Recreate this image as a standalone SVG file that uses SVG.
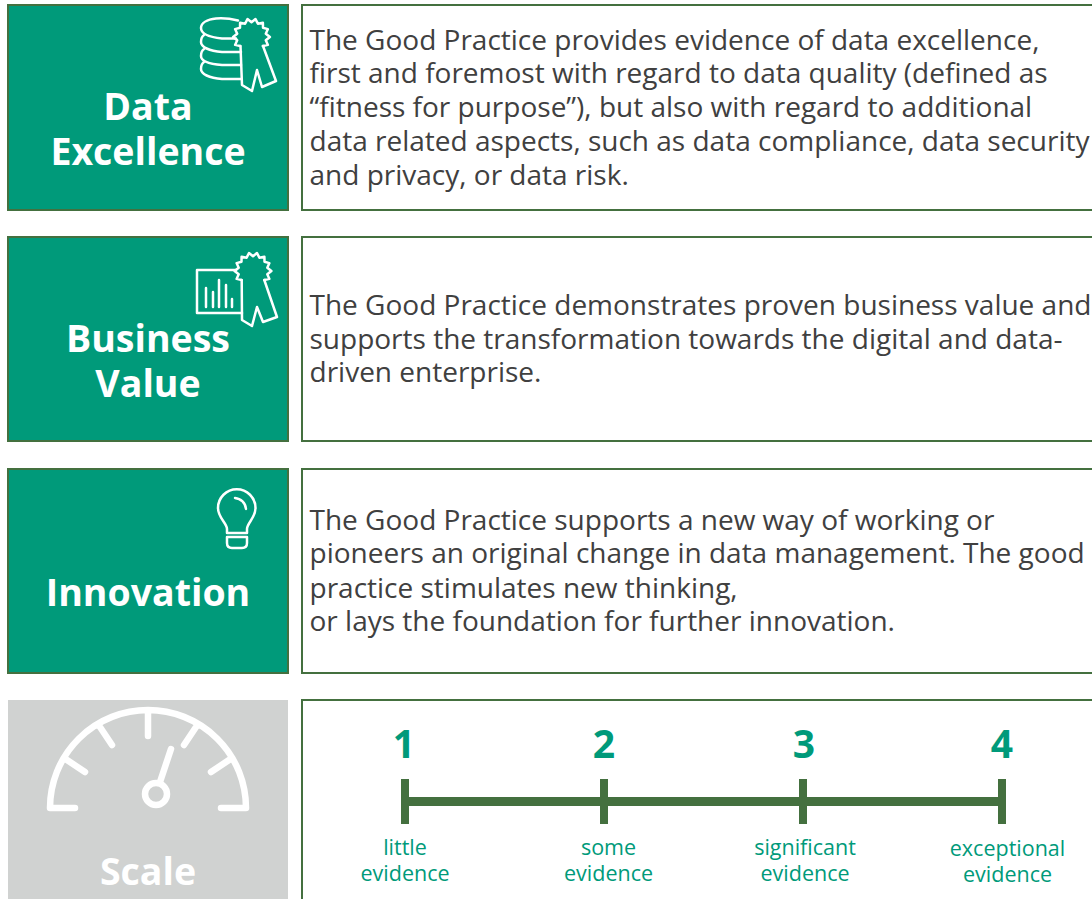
<svg xmlns="http://www.w3.org/2000/svg" width="1092" height="899" viewBox="0 0 1092 899">
<style>
text{font-family:"Open Sans","Noto Sans",sans-serif}
.tile{fill:#009a7a;stroke:#44703f;stroke-width:2}
.desc{fill:#fff;stroke:#44703f;stroke-width:2}
.title{font-size:37.5px;font-weight:700;fill:#fff;text-anchor:middle}
.body{font-size:28px;fill:#404040}
.num{font-size:39px;font-weight:700;fill:#009a7a;text-anchor:middle}
.lab{font-size:21.5px;fill:#009a7a;text-anchor:middle}
.ico{fill:none;stroke:#fff;stroke-width:2.5;stroke-linejoin:round;stroke-linecap:round}
.g{fill:none;stroke:#fff;stroke-width:6.5;stroke-linecap:round;stroke-linejoin:round}
.bar{fill:#44703f}
</style>
<defs>
<path id="star" d="M-11.34,9.04L-16.4,7.9L-14.3,3.3L-18.4,0L-14.3,-3.3L-16.4,-7.9L-11.5,-9.2L-11.4,-14.3L-6.4,-13.3L-4,-17.9L0,-14.8L4,-17.9L6.4,-13.3L11.4,-14.3L11.5,-9.2L16.4,-7.9L14.3,-3.3L18.4,0L14.3,3.3L16.4,7.9L11.34,9.04"/>
</defs>
<rect width="1092" height="899" fill="#fff"/>
<g id="data-excellence">
<rect class="tile" x="8" y="5" width="280" height="205"/>
<path class="ico" d="M238,20.500C230,18.500 222,18 216,18.500C207,19.500 201,23 201,28C201,33 208,37 222,38.500L236,38.500M204,35C201,37 201,39 201,42C201,47 209,51 222,52L241,52M204,49C201,51 201,53 201,56C201,61 209,64 222,65L241,65M204,62C201,64 201,66 201,69C201,74 209,78 222,79L241,79"/>
<use href="#star" class="ico" x="251.500" y="37"/>
<path class="ico" d="M240.500,46L242,85L252,91L257,70L262,87L276,81L263,46"/>
<text class="title" x="148" y="120">Data</text>
<text class="title" x="148" y="165">Excellence</text>
<rect class="desc" x="302" y="5" width="800" height="205"/>
<text class="body"><tspan x="309.500" y="50">The Good Practice provides evidence of data excellence,</tspan><tspan x="309.500" y="83.400">first and foremost with regard to data quality (defined as</tspan><tspan x="309.500" y="117.400">“fitness for purpose”), but also with regard to additional</tspan><tspan x="309.500" y="151.100">data related aspects, such as data compliance, data security</tspan><tspan x="309.500" y="184.800">and privacy, or data risk.</tspan></text>
</g>
<g id="business-value">
<rect class="tile" x="8" y="237" width="280" height="204"/>
<path class="ico" d="M236,270H197V313H242M206,288V307M213,292V307M219,280V307M226,285V307M232,299V307"/>
<use href="#star" class="ico" x="253" y="271"/>
<path class="ico" d="M241.700,280L242,320L252,326L257,307L263,322L277,317L264.300,280"/>
<text class="title" x="148" y="352">Business</text>
<text class="title" x="148" y="397">Value</text>
<rect class="desc" x="302" y="237" width="800" height="204"/>
<text class="body"><tspan x="309.500" y="315">The Good Practice demonstrates proven business value and</tspan><tspan x="309.500" y="348.700">supports the transformation towards the digital and data-</tspan><tspan x="309.500" y="382.400">driven enterprise.</tspan></text>
</g>
<g id="innovation">
<rect class="tile" x="8" y="469" width="280" height="204"/>
<path class="ico" d="M227,533V529C227,523 218,518 218,508A18.700,18.700 0 0 1 255.500,508C255.500,518 247,523 247,529V533ZM227,537H247V543Q247,548 242,548H232Q227,548 227,543ZM235,498A12,12 0 0 1 246,509"/>
<text class="title" x="148" y="606">Innovation</text>
<rect class="desc" x="302" y="469" width="800" height="204"/>
<text class="body"><tspan x="309.500" y="530">The Good Practice supports a new way of working or</tspan><tspan x="309.500" y="563.400">pioneers an original change in data management. The good</tspan><tspan x="309.500" y="597.600">practice stimulates new thinking,</tspan><tspan x="309.500" y="631.100">or lays the foundation for further innovation.</tspan></text>
</g>
<g id="scale">
<rect x="8" y="700" width="280" height="199" fill="#d0d2d1"/>
<path class="g" d="M75,808H50A98,98 0 0 1 246,808H221M148,711V736M100,727L112,745M196,727L184,745M67,760L85,772M229,760L211,772M171,749L160,782"/>
<circle class="g" cx="156" cy="794" r="11"/>
<text class="title" x="148" y="885">Scale</text>
<rect class="desc" x="302" y="700" width="800" height="220"/>
<rect class="bar" x="405" y="797" width="597" height="9"/>
<rect class="bar" x="401" y="779" width="8" height="45"/>
<rect class="bar" x="600" y="779" width="8" height="45"/>
<rect class="bar" x="799" y="779" width="8" height="45"/>
<rect class="bar" x="998" y="779" width="8" height="45"/>
<text class="num" x="404" y="758">1</text>
<text class="num" x="604" y="758">2</text>
<text class="num" x="804" y="758">3</text>
<text class="num" x="1002" y="758">4</text>
<text class="lab"><tspan x="405" y="855">little</tspan><tspan x="405" y="881">evidence</tspan></text>
<text class="lab"><tspan x="608.500" y="855">some</tspan><tspan x="608.500" y="881">evidence</tspan></text>
<text class="lab"><tspan x="805" y="855">significant</tspan><tspan x="805" y="881">evidence</tspan></text>
<text class="lab"><tspan x="1007.500" y="856">exceptional</tspan><tspan x="1007.500" y="882">evidence</tspan></text>
</g>
</svg>
